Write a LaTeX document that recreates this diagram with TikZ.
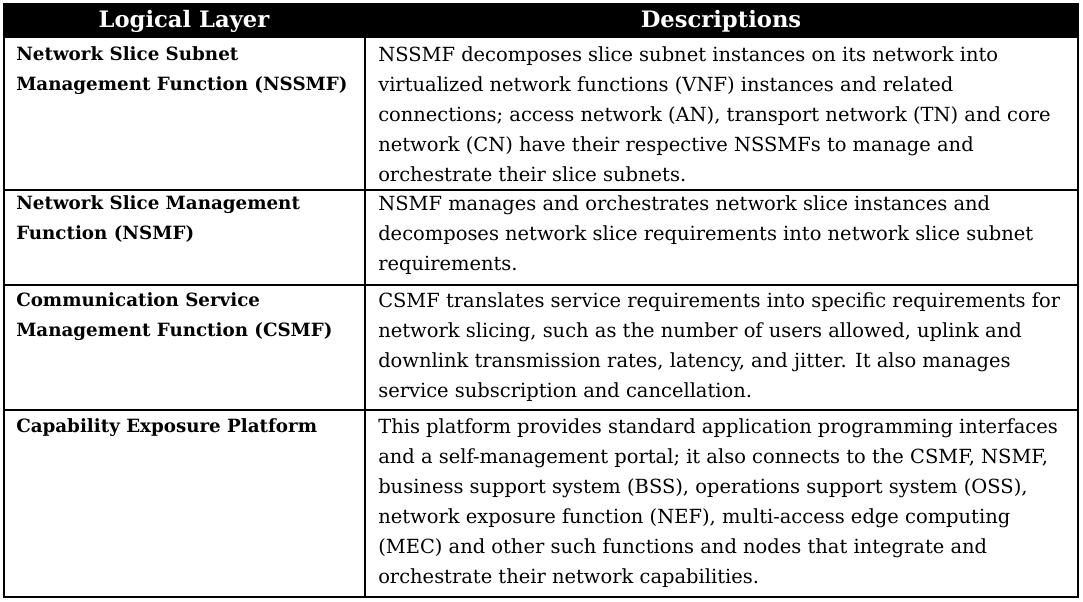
\documentclass[tikz,border=0pt]{standalone}
\usepackage{fontspec}
\setmainfont{DejaVu Serif}
\usetikzlibrary{positioning}
\tikzset{
  celltext/.style={anchor=north west, inner sep=0pt, align=left, font=\fontsize{14.6}{22.5}\selectfont},
  layertext/.style={celltext, font=\fontsize{13.7}{22.5}\selectfont\bfseries},
  headtext/.style={text=white, inner sep=0pt, font=\fontsize{17}{20}\selectfont\bfseries}
}
\begin{document}
\begin{tikzpicture}[x=0.75pt,y=-0.75pt]
  \useasboundingbox (0,0) rectangle (1083,602);
  % header bar
  \fill[black] (4,4) rectangle (1078,38);
  \node[headtext] (hlayer) at (184,21) {Logical Layer};
  \node[headtext] (hdesc) at (721,21) {Descriptions};
  % grid
  \draw[line width=0.8pt] (4,4) rectangle (1078,597);
  \draw[line width=0.8pt] (365,38) -- (365,597);
  \foreach \y in {190,285,410}
    \draw[line width=0.8pt] (4,\y) -- (1078,\y);
  % row 1
  \node[layertext] (nssmf) at (16,46) {Network Slice Subnet\\Management Function (NSSMF)};
  \node[celltext] (dnssmf) at (378,46) {NSSMF decomposes slice subnet instances on its network into\\virtualized network functions (VNF) instances and related\\connections; access network (AN), transport network (TN) and core\\network (CN) have their respective NSSMFs to manage and\\orchestrate their slice subnets.};
  % row 2
  \node[layertext] (nsmf) at (16,195) {Network Slice Management\\Function (NSMF)};
  \node[celltext] (dnsmf) at (378,195) {NSMF manages and orchestrates network slice instances and\\decomposes network slice requirements into network slice subnet\\requirements.};
  % row 3
  \node[layertext] (csmf) at (16,292) {Communication Service\\Management Function (CSMF)};
  \node[celltext] (dcsmf) at (378,292) {CSMF translates service requirements into specific requirements for\\network slicing, such as the number of users allowed, uplink and\\downlink transmission rates, latency, and jitter. It also manages\\service subscription and cancellation.};
  % row 4
  \node[layertext] (cep) at (16,418) {Capability Exposure Platform};
  \node[celltext] (dcep) at (378,418) {This platform provides standard application programming interfaces\\and a self-management portal; it also connects to the CSMF, NSMF,\\business support system (BSS), operations support system (OSS),\\network exposure function (NEF), multi-access edge computing\\(MEC) and other such functions and nodes that integrate and\\orchestrate their network capabilities.};
\end{tikzpicture}
\end{document}
